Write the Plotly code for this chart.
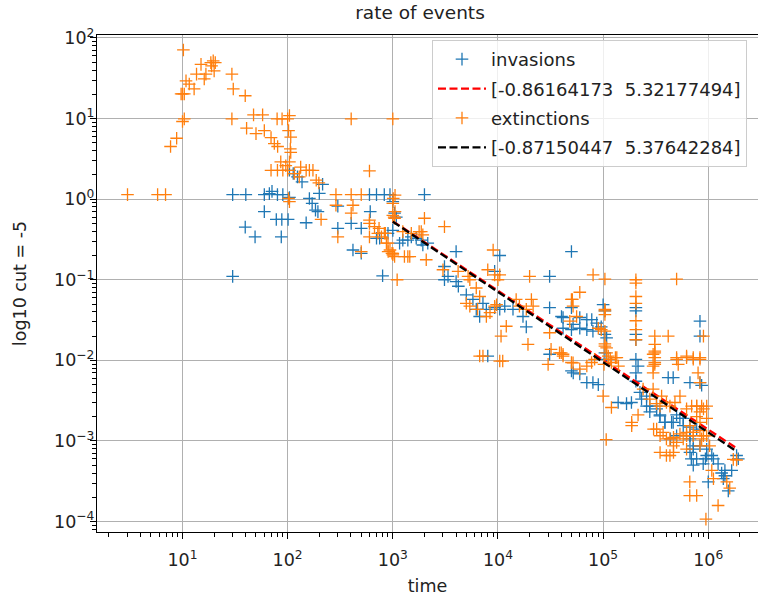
import numpy as np
import plotly.graph_objects as go

# ---------------- data ----------------
inv_x = [30, 30, 40, 60, 67, 71, 80, 90, 104,
         39.5, 49, 60, 78, 88, 101, 87,
         104, 113, 124, 137,
         150, 161, 171, 184, 194, 200, 215,
         300, 300, 402, 418, 501, 501,
         600, 700, 830, 940, 610, 700, 750, 800,
         1000, 1040, 1080, 900, 1000, 2000,
         1160, 1245, 1390, 1500, 1670, 1865, 1930, 2150,
         4000, 3100, 3350, 3100, 4000, 4200,
         5000, 5780, 6220, 6700, 7200, 7760,
         9300, 10400, 11600, 13900, 17300, 18600,
         10400, 9300, 8000,
         31000, 50000, 31000, 40200, 51800, 41600, 50000, 31000,
         50000, 50000,
         41600, 60000, 70000, 78000, 87000,
         100000, 104000, 96000, 104000, 108000,
         60000, 70000, 80000, 104000, 108000,
         52000, 60000, 70000, 80000, 90000,
         205000, 205000, 205000, 205000, 205000, 215000, 205000, 205000,
         416000, 834000, 834000, 834000, 865000, 464000, 670000,
         139000, 167000, 186000, 232000, 259000, 278000, 322000, 347000, 387000, 448000, 500000, 578000,
         670000, 720000, 775000, 966000, 1.0e6, 1.12e6, 1.39e6, 1.44e6, 1.67e6, 1.93e6, 720000, 895000,
         1.55e6, 1.44e6, 1.34e6, 1.86e6, 1.08e6, 1.24e6, 670000, 690000,
         224000, 259000, 278000, 323000, 347000, 387000, 464000, 537000, 578000, 670000, 776000,
         437000, 500000, 670000, 720000, 834000, 966000, 940000]
inv_y = [0.11, 1.14, 1.14, 1.14, 1.17, 1.25, 1.14, 1.14, 1.05,
         0.45, 0.34, 0.70, 0.56, 0.56, 0.56, 0.34,
         2.28, 2.08, 1.89, 1.64,
         0.51, 1.02, 0.885, 0.73, 0.70, 1.18, 1.53,
         0.82, 0.435, 0.5, 0.234, 0.435, 0.213,
         1.14, 1.14, 1.14, 1.14, 0.70, 0.327, 0.327, 0.112,
         0.93, 0.67, 0.60, 0.377, 0.41, 1.14,
         0.284, 0.31, 0.31, 0.34, 0.327, 0.31, 0.27, 0.284,
         0.224, 0.146, 0.11, 0.10, 0.095, 0.083,
         0.065, 0.057, 0.043, 0.035, 0.051, 0.043,
         0.045, 0.043, 0.047, 0.043, 0.035, 0.026,
         0.2, 0.127, 0.0113,
         0.11, 0.224, 0.045, 0.035, 0.028, 0.025, 0.0074, 0.0119,
         0.045, 0.024,
         0.034, 0.034, 0.032, 0.032, 0.029,
         0.049, 0.041, 0.026, 0.021, 0.019,
         0.025, 0.024, 0.023, 0.0124, 0.0103,
         0.007, 0.0068, 0.0053, 0.0053, 0.005,
         0.045, 0.041, 0.021, 0.018, 0.0103, 0.0085, 0.007, 0.0055,
         0.0061, 0.0306, 0.02, 0.0053, 0.0049, 0.0061, 0.0053,
         0.003, 0.0029, 0.003, 0.0033, 0.0027, 0.0023, 0.0027, 0.0021, 0.0017, 0.0017, 0.0021, 0.0019,
         0.00116, 0.00079, 0.0006, 0.00066, 0.00031, 0.0006, 0.00034, 0.00043, 0.00043, 0.0006, 0.0005, 0.00052,
         0.00024, 0.00037, 0.0004, 0.00066, 0.00066, 0.00052, 0.00072, 0.0006,
         0.004, 0.0036, 0.0027, 0.0025, 0.00205, 0.0017, 0.0017, 0.0019, 0.00155, 0.00148, 0.0014,
         0.00106, 0.00116, 0.00106, 0.00087, 0.00087, 0.00079, 0.0006]

ext_x = [3, 5.8, 6.9, 7.7, 8.8, 10, 10.4, 9.7, 10, 10.4, 10.2, 10.8, 11.6, 12.9, 13.6, 15, 16.1, 16.7,
         18.6, 19.6, 20.5, 18.9, 20,
         29.5, 30.4, 39.5, 29.5, 40.7, 47.4, 57.8, 50, 60, 69.5, 74.7, 80.3,
         79.4, 88.5, 100, 104, 102, 107, 106, 107, 86, 96, 104,
         69.5, 80, 90, 100, 116, 129, 133, 150, 161, 174, 187, 198, 102, 104, 208,
         288, 402, 501, 288, 418, 402, 300, 402, 1000, 600, 600, 670, 501,
         831, 869, 940, 903, 982, 1010, 1000, 1050, 1030, 1100, 1290,
         600, 600, 720, 780, 1390, 1000, 1050,
         1000, 1040, 850, 900, 1000, 1040, 740, 1245, 1500, 1780, 1865, 1930, 2000, 3100,
         1450, 2080, 3000, 4180, 5200, 5400, 6220, 6700, 5000, 5400, 6400, 7760, 8400,
         8000, 9300, 10400, 9000, 10000, 9700, 9300, 12000, 10700, 6700, 7200, 10400, 11100,
         20000, 14900, 16000, 18600, 21600, 20800, 19300, 31000, 32000, 40000, 41600, 30000,
         50000, 51800, 56000, 51800,
         80300, 104000, 205000, 205000, 500000, 60000, 51000, 48200,
         205000, 205000, 205000, 205000, 205000, 104000, 104000,
         310000, 416000, 900000, 310000, 310000, 310000, 500000, 622000, 720000, 834000, 518000,
         38500, 41600, 50000, 60000, 70000, 77700, 83000,
         104000, 108000, 117000, 131000, 100000, 120000, 187000, 107000,
         240000, 278000, 322000, 360000, 432000, 482000, 538000, 622000, 695000, 776000, 865000, 966000,
         302000, 348000, 400000, 467000, 538000, 622000, 720000, 834000, 900000,
         348000, 432000, 467000, 622000, 834000,
         667000, 667000, 776000, 1.24e6, 950000,
         1.12e6, 1.5e6, 1.6e6, 1.73e6, 1.86e6, 1.08e6, 776000, 834000,
         299000, 299000, 299000, 299000, 500000, 622000, 720000, 834000, 800000, 834000,
         347000, 400000, 323000, 372000, 432000, 467000, 400000, 500000, 578000, 622000,
         670000, 720000, 776000, 834000, 900000, 966000, 865000, 966000, 1.03e6,
         104000, 108000, 112000, 120000, 135000, 140000, 102000, 310000, 310000, 310000,
         187000, 215000, 96000, 90000, 104000, 104000]
ext_y = [1.14, 1.14, 1.14, 4.5, 5.7, 9.2, 9.9, 20.2, 20.2, 20.2, 71, 29.4, 26.8, 23.3, 35.6, 47, 31, 35.6,
         49.5, 52, 49.5, 45, 39,
         35.6, 23.3, 19.2, 9.9, 7.6, 11.1, 11.1, 6.5, 7.1, 5.8, 4.9, 4.5,
         9.9, 9.9, 9.9, 10.9, 7.1, 5.9, 4.2, 3.8, 2.9, 2.6, 2.9,
         2.28, 2.28, 2.28, 2.28, 2.08, 1.89, 2.5, 2.28, 2.28, 2.28, 1.72, 1.59, 1.02, 0.93, 0.56,
         1.14, 1.14, 1.14, 0.84, 0.84, 0.67, 0.34, 9.9, 9.9, 2.24, 0.5, 0.455, 0.224,
         0.377, 0.284, 0.234, 0.224, 0.213, 1.02, 0.885, 0.70, 0.60, 0.10, 0.194,
         0.55, 0.34, 0.377, 0.34, 0.194, 0.204, 1.12,
         0.63, 0.58, 0.377, 0.284, 0.213, 0.194, 0.435, 0.395, 0.377, 0.395, 0.395, 0.36, 0.58, 0.455,
         0.194, 0.177, 0.133, 0.127, 0.11, 0.10, 0.079, 0.062, 0.051, 0.047, 0.043, 0.035, 0.039,
         0.133, 0.115, 0.115, 0.234, 0.10, 0.049, 0.047, 0.0265, 0.02, 0.0113, 0.0113, 0.0098, 0.0098,
         0.11, 0.057, 0.047, 0.043, 0.047, 0.057, 0.0158, 0.022, 0.0137, 0.0124, 0.0119, 0.0089,
         0.057, 0.047, 0.035, 0.0093,
         0.115, 0.102, 0.10, 0.091, 0.102, 0.07, 0.057, 0.0306,
         0.062, 0.051, 0.031, 0.024, 0.018, 0.041, 0.023,
         0.02, 0.02, 0.02, 0.013, 0.0108, 0.0089, 0.0108, 0.0108, 0.0108, 0.0108, 0.0089,
         0.0124, 0.0113, 0.0094, 0.0078, 0.0085, 0.0094, 0.0103,
         0.015, 0.0124, 0.0103, 0.0108, 0.0036, 0.0026, 0.00155, 0.00104,
         0.0044, 0.0033, 0.0029, 0.0036, 0.0027, 0.003, 0.0036, 0.0025, 0.0027, 0.0027, 0.0027, 0.0027,
         0.0014, 0.00116, 0.00106, 0.00111, 0.00122, 0.00116, 0.00128, 0.00134, 0.00116,
         0.00072, 0.00066, 0.00087, 0.00079, 0.00087,
         0.00031, 0.00021, 0.00021, 0.000158, 0.000107,
         0.00034, 0.00031, 0.00026, 0.00059, 0.00058, 0.00043, 0.002, 0.0017,
         0.0119, 0.0085, 0.007, 0.0044, 0.0103, 0.0113, 0.0103, 0.0103, 0.007, 0.0053,
         0.0027, 0.003, 0.0014, 0.00128, 0.00106, 0.00072, 0.00066, 0.00096, 0.00106, 0.00128,
         0.00155, 0.00116, 0.0027, 0.0023, 0.0025, 0.0019, 0.00106, 0.00116, 0.00087,
         0.016, 0.0143, 0.0113, 0.0094, 0.0108, 0.0085, 0.0089, 0.0158, 0.0124, 0.0094,
         0.0017, 0.0021, 0.024, 0.025, 0.043, 0.037]

# fitted power laws (natural-log fit coefficients shown in the legend)
fit_inv = [-0.86164173, 5.32177494]
fit_ext = [-0.87150447, 5.37642284]
fit_x = [1000, 1.8e6]

x_tick_vals = [10, 100, 1000, 1e4, 1e5, 1e6]
x_tick_text = ["10<sup>1</sup>", "10<sup>2</sup>", "10<sup>3</sup>", "10<sup>4</sup>",
               "10<sup>5</sup>", "10<sup>6</sup>"]
y_tick_vals = [1e-4, 1e-3, 1e-2, 1e-1, 1, 10, 100]
y_tick_text = ["10<sup>\u22124</sup>", "10<sup>\u22123</sup>", "10<sup>\u22122</sup>",
               "10<sup>\u22121</sup>", "10<sup>0</sup>", "10<sup>1</sup>", "10<sup>2</sup>"]

# ---------------- figure ----------------
def fit_line(coef):
    xs = np.array(fit_x, dtype=float)
    return xs, np.exp(coef[1]) * xs ** coef[0]

FONT = "DejaVu Sans"
MK = dict(symbol="cross-thin", size=9)
fig = go.Figure()
fig.add_trace(go.Scatter(x=inv_x, y=inv_y, mode="markers", name="invasions",
                         legendgroup="a",
                         marker=dict(**MK, color="#1f77b4", line=dict(color="#1f77b4", width=1.3))))
xs, ys = fit_line(fit_inv)
fig.add_trace(go.Scatter(x=xs, y=ys, mode="lines", legendgroup="b",
                         name="[-0.86164173\u00a0 5.32177494]",
                         line=dict(color="red", width=2.3, dash="8px,3.5px")))
fig.add_trace(go.Scatter(x=ext_x, y=ext_y, mode="markers", name="extinctions",
                         legendgroup="c",
                         marker=dict(**MK, color="#ff7f0e", line=dict(color="#ff7f0e", width=1.3))))
xs, ys = fit_line(fit_ext)
fig.add_trace(go.Scatter(x=xs, y=ys, mode="lines", legendgroup="d",
                         name="[-0.87150447\u00a0 5.37642284]",
                         line=dict(color="black", width=2.3, dash="8px,3.5px")))

minor_x = [m * 10 ** d for d in range(0, 7) for m in range(2, 10)]
minor_y = [m * 10.0 ** d for d in range(-5, 3) for m in range(2, 10)]

axis_common = dict(type="log", showline=True, linecolor="black", linewidth=1.2,
                   ticks="outside", ticklen=6, tickwidth=1.2, tickcolor="black",
                   showgrid=True, gridcolor="#b0b0b0", gridwidth=1.2, zeroline=False,
                   automargin=False, tickmode="array",
                   tickfont=dict(family=FONT, size=17.5, color="#222222"))

fig.update_xaxes(**axis_common, mirror=True, range=[0.187, 6.473],
                 tickvals=x_tick_vals, ticktext=x_tick_text, ticklabelstandoff=6,
                 minor=dict(tickmode="array", tickvals=minor_x, ticks="outside", ticklen=3.5,
                            tickwidth=1, tickcolor="black", showgrid=False),
                 title=dict(text="time", font=dict(family=FONT, size=17.5, color="#222222"),
                            standoff=10))
fig.update_yaxes(**axis_common, mirror=False, range=[-4.13, 2.037],
                 tickvals=y_tick_vals, ticktext=y_tick_text, ticklabelstandoff=-8,
                 minor=dict(tickmode="array", tickvals=minor_y, ticks="outside", ticklen=3.5,
                            tickwidth=1, tickcolor="black", showgrid=False),
                 title=dict(text="log10 cut = -5", font=dict(family=FONT, size=17.5, color="#222222"),
                            standoff=22))

fig.update_layout(
    width=758, height=598,
    margin=dict(l=97, r=0, t=35, b=66),
    plot_bgcolor="white", paper_bgcolor="white",
    font=dict(family=FONT, size=17.5, color="#222222"),
    title=dict(text="rate of events", x=0.4887, xanchor="center", xref="paper",
               y=0.99, yanchor="top", yref="container",
               font=dict(family=FONT, size=18.5, color="#222222")),
    legend=dict(x=0.5068, xanchor="left", y=0.99, yanchor="top",
                bgcolor="rgba(255,255,255,0.8)", bordercolor="#cccccc", borderwidth=1,
                font=dict(family=FONT, size=18, color="#222222"),
                traceorder="grouped", tracegroupgap=3, itemwidth=48),
)

fig.write_html("out.html", config={"displayModeBar": False},
               post_script="document.body.style.margin='0px';")
